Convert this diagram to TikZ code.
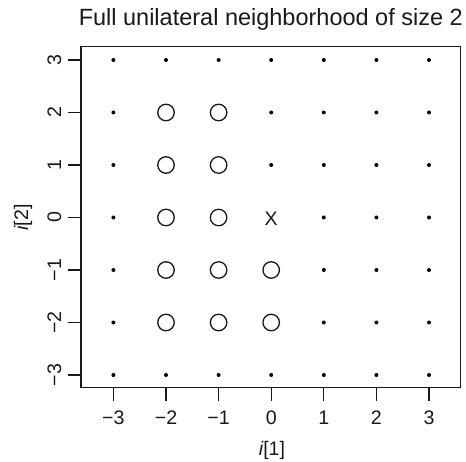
\documentclass[tikz,border=0pt]{standalone}
\usepackage{fontspec}
\setmainfont{Liberation Sans}
\begin{document}
\begin{tikzpicture}[x=1pt,y=-1pt,
  dotpt/.style={circle,fill=black,inner sep=0pt,minimum size=4pt},
  ring/.style={circle,draw=black!90,line width=1.3pt,inner sep=0pt,minimum size=16.5pt},
  xmark/.style={inner sep=0pt,font=\fontsize{19.6}{22}\selectfont,text=black!90},
  axisline/.style={line width=1.2pt,black!90},
  ticklab/.style={inner sep=0pt,font=\fontsize{19.6}{22}\selectfont,text=black!90},
  titlelab/.style={inner sep=0pt,font=\fontsize{23.5}{26}\selectfont,text=black!90}]
\useasboundingbox (0,0) rectangle (466,462);
% grid coordinates
\foreach \i in {-3,...,3}{
  \foreach \j in {-3,...,3}{
    \pgfmathsetmacro\px{271.2+52.6*\i}
    \pgfmathsetmacro\py{217.5-52.5*\j}
    \coordinate (g\i/\j) at (\px,\py);
  }
}
% plot box
\coordinate (bl) at (81,387.3);
\coordinate (tr) at (460.7,46.8);
\draw[axisline] (bl) rectangle (tr);
% small dots
\foreach \p in {-3/3,-2/3,-1/3,0/3,1/3,2/3,3/3,
                -3/2,0/2,1/2,2/2,3/2,
                -3/1,0/1,1/1,2/1,3/1,
                -3/0,1/0,2/0,3/0,
                -3/-1,1/-1,2/-1,3/-1,
                -3/-2,1/-2,2/-2,3/-2,
                -3/-3,-2/-3,-1/-3,0/-3,1/-3,2/-3,3/-3}{
  \node[dotpt] (d\p) at (g\p) {};
}
% neighbourhood circles
\foreach \p in {-2/2,-1/2,-2/1,-1/1,-2/0,-1/0,-2/-1,-1/-1,0/-1,-2/-2,-1/-2,0/-2}{
  \node[ring] (c\p) at (g\p) {};
}
% centre
\node[xmark] (centre) at ([yshift=-1.5pt]g0/0) {X};
% x axis ticks and labels
\foreach \i/\t in {-3/−3,-2/−2,-1/−1,0/0,1/1,2/2,3/3}{
  \pgfmathsetmacro\px{271.2+52.6*\i}
  \coordinate (xt\i) at (\px,387.3);
  \coordinate (xe\i) at (\px,400.7);
  \draw[axisline] (xt\i) -- (xe\i);
  \node[ticklab,anchor=base] (xl\i) at (\px,424.3) {\t};
}
% y axis ticks and labels
\foreach \j/\t in {-3/−3,-2/−2,-1/−1,0/0,1/1,2/2,3/3}{
  \pgfmathsetmacro\py{217.5-52.5*\j}
  \coordinate (yt\j) at (81,\py);
  \coordinate (ye\j) at (67.6,\py);
  \draw[axisline] (yt\j) -- (ye\j);
  \node[ticklab,anchor=base,rotate=90] (yl\j) at (61,\py) {\t};
}
% axis titles
\node[ticklab,anchor=base] (xtitle) at (272,455) {\itshape i\upshape[1]};
\node[ticklab,anchor=base,rotate=90] (ytitle) at (28,217.5) {\itshape i\upshape[2]};
% main title
\node[titlelab,anchor=base] (title) at (270.8,25.5) {Full unilateral neighborhood of size 2};
\end{tikzpicture}
\end{document}
